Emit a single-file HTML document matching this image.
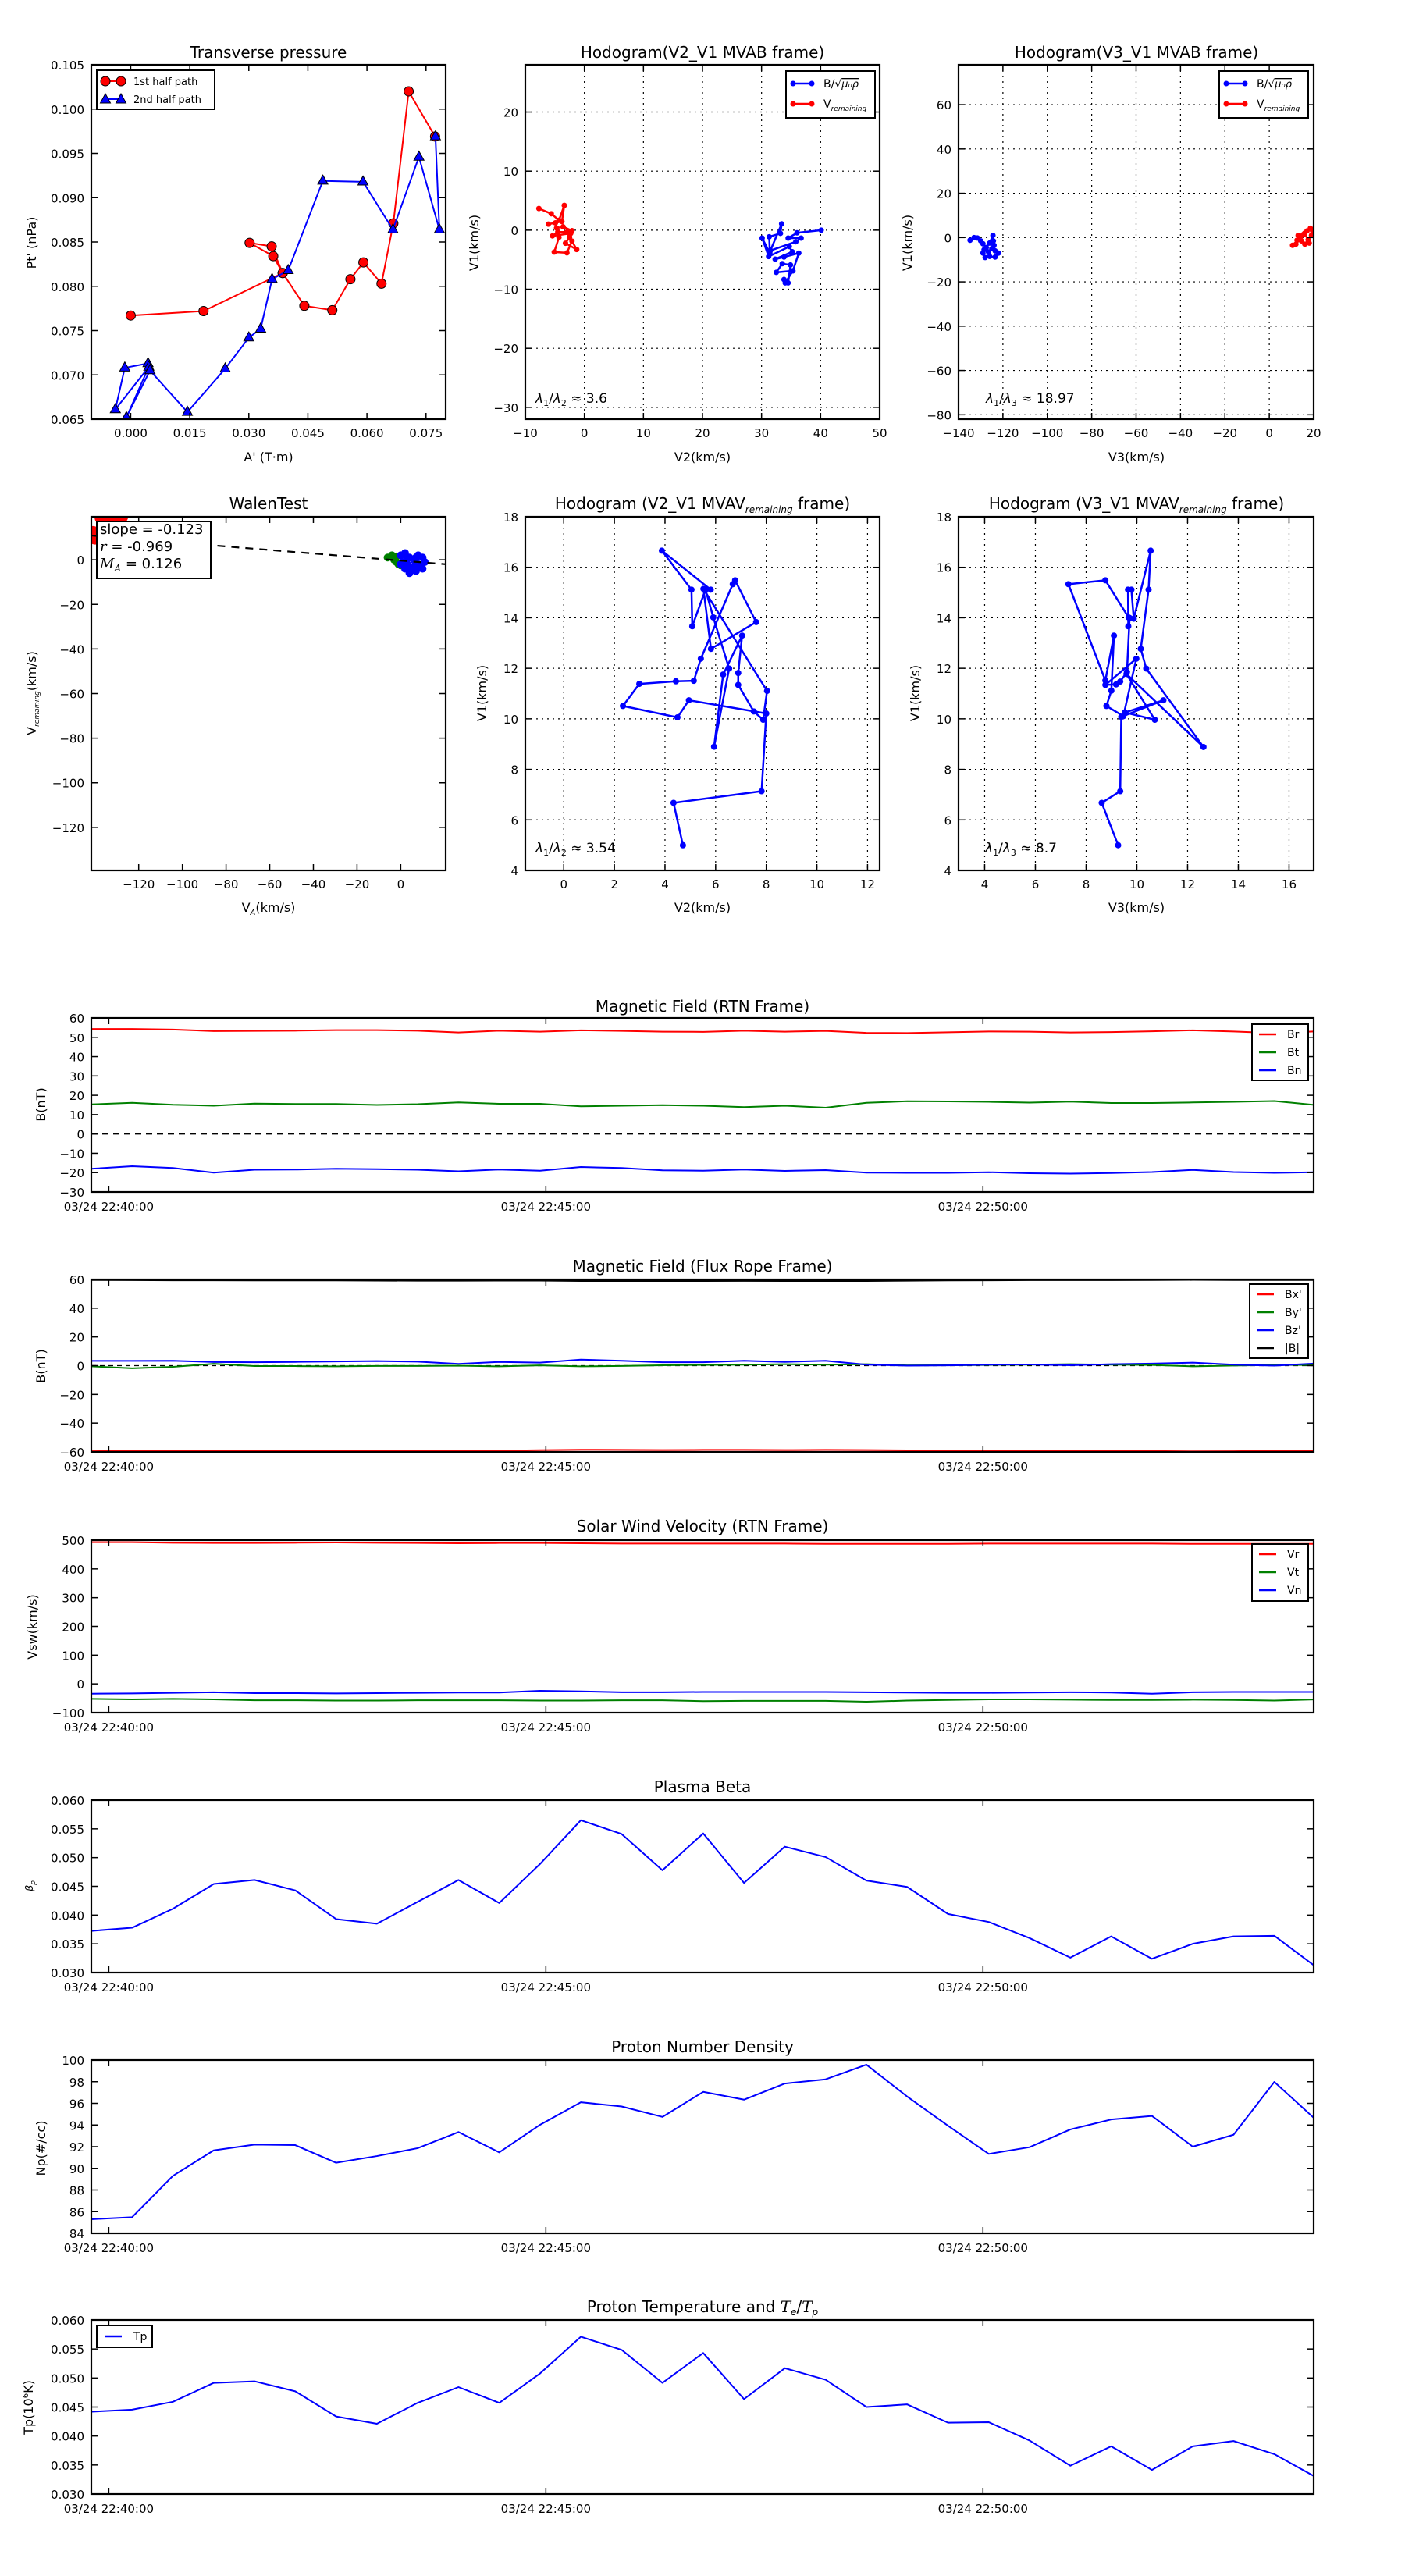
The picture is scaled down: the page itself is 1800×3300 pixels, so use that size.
<!DOCTYPE html>
<html><head><meta charset="utf-8"><style>
html,body{margin:0;padding:0;background:#fff;}
svg{display:block;}
text{font-family:"DejaVu Sans","Liberation Sans",sans-serif;fill:#000;}
</style></head>
<body>
<svg id="fig" xmlns="http://www.w3.org/2000/svg" width="1800" height="3300" viewBox="0 0 1800 3300">
<rect x="0" y="0" width="1800" height="3300" fill="#fff"/>
<defs id="defs"></defs>
</svg>
<script>
// ---------- data ----------
const pressX1 = [0.0000,0.0185,0.0386,0.0362,0.0302,0.0358,0.0386,0.0441,0.0512,0.0558,0.0591,0.0637,0.0667,0.0706,0.0773];
const pressY1 = [0.0767,0.0772,0.0815,0.0834,0.0849,0.0845,0.0815,0.0778,0.0773,0.0808,0.0827,0.0803,0.0871,0.1020,0.0969];
const pressX2 = [0.0044,-0.0015,-0.0039,0.0046,-0.0011,0.0049,0.0144,0.0240,0.0300,0.0330,0.0359,0.0400,0.0488,0.0590,0.0666,0.0732,0.0784,0.0774];
const pressY2 = [0.0713,0.0708,0.0661,0.0709,0.0652,0.0705,0.0658,0.0707,0.0742,0.0752,0.0808,0.0818,0.0919,0.0918,0.0864,0.0946,0.0864,0.0969];

const h1BlueX = [40.1,36.0,34.5,36.7,35.8,31.5,33.4,33.2,31.3,31.4,30.1,31.2,34.7,35.2,32.3,33.8,36.3,35.3,32.5,33.5,34.9,34.5,33.8,34.0,35.3];
const h1BlueY = [0,-0.45,-1.34,-1.34,-1.96,-3.44,1.07,-0.54,-1.12,-3.88,-1.34,-4.46,-2.77,-3.66,-4.91,-4.55,-3.88,-6.88,-7.14,-5.67,-5.89,-8.93,-8.35,-8.93,-6.88];
const h1RedX = [-7.7,-5.6,-4.3,-3.4,-3.8,-6.1,-4.9,-4.7,-3.6,-2.1,-2.3,-5.4,-4.5,-2.95,-2.5,-3.2,-1.3,-2.1,-2.95,-5.1,-4.3];
const h1RedY = [3.67,2.78,1.68,4.19,1.46,1.02,1.24,0.36,0.57,-0.09,-0.53,-0.97,-0.31,-0.31,-1.19,-2.21,-3.27,-1.85,-3.84,-3.70,-1.2];

const h3BlueX = [-134.8,-133,-131.5,-130,-129,-127.5,-126,-124.5,-124.3,-124,-123.5,-122,-123.5,-126,-128,-129,-128.5,-126.5,-125];
const h3BlueY = [-1.2,0,-0.2,-1.5,-2.8,-4.5,-2.5,1.0,-1.5,-3.5,-6,-7,-8.8,-8.5,-9,-7,-5.5,-6.5,-5];
const h3RedX = [10.5,12,12.5,14,15.5,17,18.5,19.5,19,17.5,16,14.5,13,16,18];
const h3RedY = [-3.5,-3,-1.2,0,1.5,3,4.2,3,1,-1,-3,-1.5,1,2,-2.5];

const walenBlueX = [0,2,4,6,8,10,11,9,7,5,3,1,2,4,6,8,10,0,3,7];
const walenBlueY = [2,3,1,0,2,1,-1,-3,-5,-4,-2,-1,-4,-6,-3,-2,-4,-2,1,1];
const walenGreenX = [-6,-4,-3,-2,-1,-3,-2,0];
const walenGreenY = [1,2,0,-1,-2,1,1.5,-2.5];
const walenRedX = [-141,-140,-137,-133,-130,-128];
const walenRedY = [12,10,19,19.5,20,19.5];
const walenFitX = [-141.7,20.6];
const walenFitSlope = -0.0795;
const walenFitIntercept = -0.36;

const h2X = [4.708,4.338,7.815,8.000,4.944,4.492,2.338,2.985,4.431,5.138,5.415,6.677,6.769,7.600,5.815,5.518,8.031,7.877,7.508,6.892,6.892,7.046,6.297,5.938,6.533,5.908,5.600,5.077,5.046,3.877,5.805];
const h2Y = [4.997,6.674,7.136,10.211,10.735,10.057,10.509,11.383,11.486,11.506,12.380,15.332,15.486,13.830,12.771,15.147,11.105,9.964,10.293,11.342,11.815,13.296,11.753,8.895,11.990,14.015,15.116,13.666,15.116,16.658,15.116];
const h4X = [9.262,8.615,9.344,9.385,11.046,9.528,10.708,9.590,12.626,10.369,10.154,10.462,10.544,9.877,9.785,9.651,9.662,9.672,8.759,7.303,8.759,9.097,8.995,8.800,9.467,9.979,8.759,9.179,9.344,9.610,9.713];
const h4Y = [4.998,6.674,7.136,10.077,10.735,10.252,9.964,11.774,8.884,11.990,12.771,15.116,16.658,13.964,15.116,15.116,13.666,14.015,15.486,15.332,11.517,13.296,11.116,10.509,10.108,12.380,11.342,11.362,11.476,11.856,13.995];

// time series (seconds after 03/24 22:40:00)
const sampleSeconds = [-12,16,44,72,100,128,156,184,212,240,268,296,324,352,380,408,436,464,492,520,548,576,604,632,660,688,716,744,772,800,828];
const timeTicks = [0,300,600];
const timeTickLabels = ['03/24 22:40:00','03/24 22:45:00','03/24 22:50:00'];

const Br = [54.3,54.3,54,53.2,53.3,53.4,53.7,53.7,53.4,52.5,53.4,52.9,53.6,53.3,52.9,52.8,53.4,52.9,53.3,52.3,52.2,52.6,53,52.9,52.5,52.7,53.1,53.6,53,52.2,53];
const Bt = [15.3,16.1,15.1,14.6,15.7,15.5,15.5,15,15.4,16.3,15.6,15.6,14.3,14.6,14.9,14.6,13.9,14.6,13.6,16.1,16.9,16.8,16.6,16.2,16.7,16,16,16.3,16.6,17,15];
const Bn = [-18,-16.7,-17.6,-20,-18.5,-18.4,-18,-18.2,-18.5,-19.3,-18.4,-19,-17.1,-17.6,-18.8,-19,-18.4,-19.1,-18.7,-20,-20.1,-20.1,-19.8,-20.3,-20.5,-20.2,-19.7,-18.6,-19.7,-20.1,-19.8];

const BxF = [-59.5,-59.3,-59,-59,-59,-59.2,-59.2,-59,-59,-58.9,-59.2,-58.8,-58.5,-58.6,-58.7,-58.6,-58.6,-58.7,-58.6,-58.7,-58.9,-59.2,-59.3,-59.3,-59.3,-59.3,-59.4,-59.6,-59.5,-59.2,-59.4];
const ByF = [-0.5,-1.8,-0.8,1.3,-0.3,-0.3,-0.5,-0.2,-0.2,0,-0.5,0.2,-0.5,-0.2,0.3,0.5,0.7,1,0.7,1,0.2,0.3,0.5,0.7,1,0.7,0.5,-0.5,0.1,0.5,0.5];
const BzF = [3.3,3.3,3.4,2.5,2.4,2.6,2.9,3.2,2.8,1.2,2.6,2.1,4.2,3.4,2.4,2.4,3.4,2.6,3.4,0.7,0,0.2,0.7,0.8,0.3,1,1.4,2.1,0.7,0,1.5];
const Bmag = [59.6,59.5,59.4,59.4,59.3,59.3,59.3,59.2,59.1,59.1,59.2,59.2,58.9,58.9,58.9,58.9,59,58.9,58.9,58.9,59.1,59.3,59.4,59.5,59.5,59.5,59.6,59.7,59.6,59.6,59.6];

const Vr = [493,493,491,490,490,491,492,491,490,489,490,490,489,488,488,488,488,488,487,487,487,487,488,488,488,488,488,487,487,487,487];
const Vt = [-52,-54,-52,-54,-57,-57,-58,-58,-57,-57,-57,-58,-58,-57,-57,-60,-59,-59,-59,-62,-58,-56,-54,-54,-55,-56,-56,-55,-56,-58,-54];
const Vn = [-34,-33,-31,-29,-32,-32,-33,-32,-31,-30,-30,-24,-26,-29,-29,-28,-28,-28,-28,-29,-30,-31,-31,-30,-29,-30,-34,-29,-28,-28,-28];

const betaP = [0.03725,0.0378,0.0411,0.0454,0.0461,0.0443,0.0393,0.0385,0.0423,0.0461,0.0421,0.0489,0.0565,0.0541,0.0478,0.0542,0.0456,0.0519,0.0501,0.0460,0.0449,0.0402,0.0388,0.0360,0.0326,0.0363,0.0324,0.0350,0.0363,0.0364,0.0311];
const densNp = [85.30,85.49,89.30,91.66,92.19,92.14,90.51,91.13,91.86,93.35,91.47,94.02,96.10,95.71,94.75,97.06,96.34,97.83,98.22,99.57,96.63,93.93,91.33,91.95,93.59,94.51,94.84,92.0,93.1,97.98,94.55];
const tempTp = [0.04419,0.04455,0.0459,0.04916,0.04943,0.04771,0.04337,0.04211,0.04572,0.04843,0.04572,0.05078,0.05711,0.05485,0.04916,0.05431,0.04636,0.05169,0.0497,0.045,0.04545,0.04229,0.04238,0.03922,0.03488,0.03822,0.03416,0.03822,0.03913,0.03687,0.03298];

// ---------- drawing ----------
const NS = 'http://www.w3.org/2000/svg';
const svg = document.getElementById('fig');
const defs = document.getElementById('defs');
const MINUS = '\u2212';
function el(tag, attrs, parent){
  const e = document.createElementNS(NS, tag);
  for (const k in attrs) e.setAttribute(k, attrs[k]);
  parent.appendChild(e);
  return e;
}
function fmtNum(v, d){ const s = Math.abs(v).toFixed(d); return (v < -1e-12 ? MINUS : '') + s; }

function makeAxes(o){
  const g = el('g', {}, svg);
  
  
  const cp = el('clipPath', {id: 'clip-' + o.name}, defs);
  
  
  const cr = el('rect', {x:o.L, y:o.T, width:o.R-o.L, height:o.B-o.T}, cp);
  
  
  const sx = v => o.L + (v - o.xmin) / (o.xmax - o.xmin) * (o.R - o.L);
  const sy = v => o.B - (v - o.ymin) / (o.ymax - o.ymin) * (o.B - o.T);
  if (o.grid){
    o.xt.forEach(v => {
      const l = el('line', {x1:sx(v), x2:sx(v), y1:o.T, y2:o.B, stroke:'#000', 'stroke-width':1.2, 'stroke-dasharray':'2,5'}, g);
      
      
    });
    o.yt.forEach(v => {
      const l = el('line', {x1:o.L, x2:o.R, y1:sy(v), y2:sy(v), stroke:'#000', 'stroke-width':1.2, 'stroke-dasharray':'2,5'}, g);
      
      
    });
  }
  const data = el('g', {'clip-path': 'url(#clip-' + o.name + ')'}, g);
  
  
  function finish(){
    const tk = el('g', {stroke:'#000', 'stroke-width':1.5}, g);
    
    
    o.xt.forEach((v, i) => {
      const x = sx(v);
      const a = el('line', {x1:x, x2:x, y1:o.B, y2:o.B-8}, tk);
      
      
      const b = el('line', {x1:x, x2:x, y1:o.T, y2:o.T+8}, tk);
      
      
      const lab = o.xlabels ? o.xlabels[i] : o.xfmt(v);
      const t = el('text', {x:x, y:o.B + (o.xOff || 23), 'text-anchor':'middle', 'font-size':15}, g);
      t.textContent = lab;
      
      
    });
    o.yt.forEach(v => {
      const y = sy(v);
      const a = el('line', {x1:o.L, x2:o.L+8, y1:y, y2:y}, tk);
      
      
      const b = el('line', {x1:o.R, x2:o.R-8, y1:y, y2:y}, tk);
      
      
      const t = el('text', {x:o.L-9, y:y+6, 'text-anchor':'end', 'font-size':15}, g);
      t.textContent = o.yfmt(v);
      
      
    });
    const fr = el('rect', {x:o.L, y:o.T, width:o.R-o.L, height:o.B-o.T, fill:'none', stroke:'#000', 'stroke-width':2.2}, g);
    
    
  }
  return {g, data, sx, sy, finish, o};
}
function polyline(ax, xs, ys, color, w, name, dash){
  let d = '';
  xs.forEach((x, i) => { d += (i ? 'L' : 'M') + ax.sx(x).toFixed(2) + ',' + ax.sy(ys[i]).toFixed(2); });
  const attrs = {d:d, fill:'none', stroke:color, 'stroke-width':w, 'stroke-linejoin':'round'};
  if (dash) attrs['stroke-dasharray'] = dash;
  const p = el('path', attrs, ax.data);
  
  
  return p;
}
function dots(ax, xs, ys, color, r, name, stroke){
  xs.forEach((x, i) => {
    const c = el('circle', {cx:ax.sx(x), cy:ax.sy(ys[i]), r:r, fill:color, stroke:stroke || 'none', 'stroke-width':1}, ax.data);
    
    
  });
}
function tris(ax, xs, ys, color, s, name){
  xs.forEach((x, i) => {
    const cx = ax.sx(x), cy = ax.sy(ys[i]);
    const p = el('polygon', {points:`${cx},${cy-s*1.15} ${cx-s},${cy+s*0.65} ${cx+s},${cy+s*0.65}`, fill:color, stroke:'#000', 'stroke-width':1}, ax.data);
    
    
  });
}
function text(x, y, str, attrs, name){
  const t = el('text', Object.assign({x:x, y:y}, attrs || {}), svg);
  t.textContent = str;
  
  
  return t;
}
function tspan(parent, str, attrs, name){
  const t = el('tspan', attrs || {}, parent);
  t.textContent = str;
  
  
  return t;
}
function ylabel(x, y, str, size, name){
  const t = text(x, y, str, {'text-anchor':'middle', 'font-size':size || 16, transform:`rotate(-90 ${x} ${y})`}, name);
  return t;
}
function rectBox(x, y, w, h, name){
  const r = el('rect', {x:x, y:y, width:w, height:h, fill:'#fff', stroke:'#000', 'stroke-width':2}, svg);
  
  
  return r;
}
function seg(x1, y1, x2, y2, color, w, name){
  const l = el('line', {x1, y1, x2, y2, stroke:color, 'stroke-width':w}, svg);
  
  
  return l;
}
function dot(cx, cy, r, color, name, stroke){
  const c = el('circle', {cx, cy, r, fill:color, stroke:stroke||'none', 'stroke-width':1}, svg);
  
  
}
const range = (a, b, s) => { const r = []; for (let v = a; v <= b + 1e-9; v += s) r.push(+v.toFixed(6)); return r; };

// ===== Transverse pressure =====
const axP = makeAxes({name:'transverse-pressure-axes', L:117, T:83, R:571, B:537, xmin:-0.01, xmax:0.08, ymin:0.065, ymax:0.105,
  xt:range(0,0.075,0.015), yt:range(0.065,0.105,0.005), xfmt:v=>v.toFixed(3), yfmt:v=>v.toFixed(3)});
polyline(axP, pressX1, pressY1, '#f00', 2, 'first-half-path-line');
dots(axP, pressX1, pressY1, '#f00', 6, 'first-half-path-point', '#000');
polyline(axP, pressX2, pressY2, '#00f', 2, 'second-half-path-line');
tris(axP, pressX2, pressY2, '#00f', 6.5, 'second-half-path-point');
axP.finish();
text(344, 74, 'Transverse pressure', {'text-anchor':'middle','font-size':20}, 'transverse-pressure-title');
text(344, 591, "A' (T\u00b7m)", {'text-anchor':'middle','font-size':16}, 'x-axis-title');
ylabel(46, 311, "Pt' (nPa)", 16, 'y-axis-title');
rectBox(124, 90, 151, 50, 'pressure-legend');
seg(135, 104, 155, 104, '#f00', 2, 'legend-line-first');
dot(135, 104, 6, '#f00', 'legend-marker-first', '#000');
dot(155, 104, 6, '#f00', 'legend-marker-first', '#000');
text(171, 109, '1st half path', {'font-size':13}, 'legend-label-first');
seg(135, 127, 155, 127, '#00f', 2, 'legend-line-second');
{
  [135,155].forEach(cx => {
    const p = el('polygon', {points:`${cx},${127-7} ${cx-6.5},${127+5} ${cx+6.5},${127+5}`, fill:'#00f', stroke:'#000','stroke-width':1}, svg);
    
    
  });
}
text(171, 132, '2nd half path', {'font-size':13}, 'legend-label-second');

// ===== Hodogram V2_V1 MVAB =====
const axH1 = makeAxes({name:'hodogram-v2-v1-mvab-axes', L:673, T:83, R:1127, B:537, xmin:-10, xmax:50, ymin:-32, ymax:28,
  xt:range(-10,50,10), yt:range(-30,20,10), xfmt:v=>fmtNum(v,0), yfmt:v=>fmtNum(v,0), grid:true});
polyline(axH1, h1BlueX, h1BlueY, '#00f', 2.5, 'b-normalized-line');
dots(axH1, h1BlueX, h1BlueY, '#00f', 3.5, 'b-normalized-point');
polyline(axH1, h1RedX, h1RedY, '#f00', 2.5, 'v-remaining-line');
dots(axH1, h1RedX, h1RedY, '#f00', 3.5, 'v-remaining-point');
axH1.finish();
text(900, 74, 'Hodogram(V2_V1 MVAB frame)', {'text-anchor':'middle','font-size':20}, 'hodogram-v2-title');
text(900, 591, 'V2(km/s)', {'text-anchor':'middle','font-size':16}, 'x-axis-title');
ylabel(613, 311, 'V1(km/s)', 16, 'y-axis-title');
{
  const t = text(686, 516, '', {'font-size':17}, 'eigen-ratio-label');
  tspan(t, '\u03bb', {'font-style':'italic'}, 'lambda');
  tspan(t, '1', {'font-size':11, dy:4}, 'sub');
  tspan(t, '/', {dy:-4}, 'slash');
  tspan(t, '\u03bb', {'font-style':'italic'}, 'lambda');
  tspan(t, '2', {'font-size':11, dy:4}, 'sub');
  tspan(t, ' \u2248 3.6', {dy:-4}, 'value');
}
function hodoLegend(x, y, prefix){
  rectBox(x, y, 114, 60, prefix + '-legend');
  seg(x+9, y+16, x+33, y+16, '#00f', 2.5, 'legend-line-b');
  dot(x+9, y+16, 3.5, '#00f', 'legend-marker-b');
  dot(x+33, y+16, 3.5, '#00f', 'legend-marker-b');
  const t1 = text(x+48, y+21, 'B/\u221a', {'font-size':14}, 'legend-label-b');
  tspan(t1, '\u03bc\u2080\u03c1', {'font-style':'italic','text-decoration':'overline','font-size':13}, 'sqrt-term');
  seg(x+9, y+42, x+33, y+42, '#f00', 2.5, 'legend-line-v');
  dot(x+9, y+42, 3.5, '#f00', 'legend-marker-v');
  dot(x+33, y+42, 3.5, '#f00', 'legend-marker-v');
  const t2 = text(x+48, y+47, 'V', {'font-size':14}, 'legend-label-v');
  tspan(t2, 'remaining', {'font-size':9,'font-style':'italic',dy:4}, 'subscript');
}
hodoLegend(1007, 91, 'hodogram-v2');

// ===== Hodogram V3_V1 MVAB =====
const axH3 = makeAxes({name:'hodogram-v3-v1-mvab-axes', L:1228, T:83, R:1683, B:537, xmin:-140, xmax:20, ymin:-82, ymax:78,
  xt:range(-140,20,20), yt:range(-80,60,20), xfmt:v=>fmtNum(v,0), yfmt:v=>fmtNum(v,0), grid:true});
polyline(axH3, h3BlueX, h3BlueY, '#00f', 2.5, 'b-normalized-line');
dots(axH3, h3BlueX, h3BlueY, '#00f', 3.5, 'b-normalized-point');
polyline(axH3, h3RedX, h3RedY, '#f00', 2.5, 'v-remaining-line');
dots(axH3, h3RedX, h3RedY, '#f00', 3.5, 'v-remaining-point');
axH3.finish();
text(1456, 74, 'Hodogram(V3_V1 MVAB frame)', {'text-anchor':'middle','font-size':20}, 'hodogram-v3-title');
text(1456, 591, 'V3(km/s)', {'text-anchor':'middle','font-size':16}, 'x-axis-title');
ylabel(1168, 311, 'V1(km/s)', 16, 'y-axis-title');
{
  const t = text(1263, 516, '', {'font-size':17}, 'eigen-ratio-label');
  tspan(t, '\u03bb', {'font-style':'italic'}, 'lambda');
  tspan(t, '1', {'font-size':11, dy:4}, 'sub');
  tspan(t, '/', {dy:-4}, 'slash');
  tspan(t, '\u03bb', {'font-style':'italic'}, 'lambda');
  tspan(t, '3', {'font-size':11, dy:4}, 'sub');
  tspan(t, ' \u2248 18.97', {dy:-4}, 'value');
}
hodoLegend(1562, 91, 'hodogram-v3');

// ===== Walen test =====
const axW = makeAxes({name:'walen-test-axes', L:117, T:662, R:571, B:1115, xmin:-141.7, xmax:20.6, ymin:-139.3, ymax:19.3,
  xt:range(-120,0,20), yt:range(-120,0,20), xfmt:v=>fmtNum(v,0), yfmt:v=>fmtNum(v,0)});
dots(axW, walenRedX, walenRedY, '#f00', 9, 'walen-red-point');
dots(axW, walenGreenX, walenGreenY, '#008000', 5, 'walen-green-point');
dots(axW, walenBlueX, walenBlueY, '#00f', 5, 'walen-blue-point');
polyline(axW, walenFitX, walenFitX.map(x => walenFitIntercept + walenFitSlope * x), '#000', 2.2, 'walen-fit-line', '10,8');
axW.finish();
text(344, 652, 'WalenTest', {'text-anchor':'middle','font-size':20}, 'walen-title');
rectBox(124, 668, 146, 73, 'walen-stats-box');
text(128, 684, 'slope = -0.123', {'font-size':18}, 'slope-label');
{
  const t = text(128, 706, '', {'font-size':18}, 'r-label');
  tspan(t, 'r', {'font-style':'italic','font-family':'"DejaVu Serif",serif'}, 'r-symbol');
  tspan(t, ' = -0.969', {}, 'r-value');
  const t2 = text(128, 728, '', {'font-size':18}, 'ma-label');
  tspan(t2, 'M', {'font-style':'italic','font-family':'"DejaVu Serif",serif'}, 'm-symbol');
  tspan(t2, 'A', {'font-style':'italic','font-size':12, dy:4,'font-family':'"DejaVu Serif",serif'}, 'a-sub');
  tspan(t2, ' = 0.126', {dy:-4}, 'ma-value');
}
{
  const t = text(344, 1168, 'V', {'text-anchor':'middle','font-size':16}, 'x-axis-title');
  tspan(t, 'A', {'font-size':10,'font-style':'italic',dy:4}, 'subscript');
  tspan(t, '(km/s)', {dy:-4}, 'units');
  const y = text(46, 888, 'V', {'text-anchor':'middle','font-size':16, transform:'rotate(-90 46 888)'}, 'y-axis-title');
  tspan(y, 'remaining', {'font-size':9,'font-style':'italic',dy:4}, 'subscript');
  tspan(y, '(km/s)', {dy:-4}, 'units');
}

// ===== Hodogram V2_V1 MVAV =====
const axH2 = makeAxes({name:'hodogram-v2-v1-mvav-axes', L:673, T:662, R:1127, B:1115, xmin:-1.518, xmax:12.48, ymin:4, ymax:18,
  xt:range(0,12,2), yt:range(4,18,2), xfmt:v=>fmtNum(v,0), yfmt:v=>fmtNum(v,0), grid:true});
polyline(axH2, h2X, h2Y, '#00f', 2.5, 'v-remaining-line');
dots(axH2, h2X, h2Y, '#00f', 4, 'v-remaining-point');
axH2.finish();
function mvavTitle(cx, s, name){
  const t = text(cx, 652, 'Hodogram (' + s + '_V1 MVAV', {'text-anchor':'middle','font-size':20}, name);
  tspan(t, 'remaining', {'font-size':12,'font-style':'italic',dy:5}, 'subscript');
  tspan(t, ' frame)', {dy:-5}, 'suffix');
}
mvavTitle(900, 'V2', 'hodogram-v2-mvav-title');
text(900, 1168, 'V2(km/s)', {'text-anchor':'middle','font-size':16}, 'x-axis-title');
ylabel(623, 888, 'V1(km/s)', 16, 'y-axis-title');
{
  const t = text(686, 1092, '', {'font-size':17}, 'eigen-ratio-label');
  tspan(t, '\u03bb', {'font-style':'italic'}, 'lambda');
  tspan(t, '1', {'font-size':11, dy:4}, 'sub');
  tspan(t, '/', {dy:-4}, 'slash');
  tspan(t, '\u03bb', {'font-style':'italic'}, 'lambda');
  tspan(t, '2', {'font-size':11, dy:4}, 'sub');
  tspan(t, ' \u2248 3.54', {dy:-4}, 'value');
}

// ===== Hodogram V3_V1 MVAV =====
const axH4 = makeAxes({name:'hodogram-v3-v1-mvav-axes', L:1228, T:662, R:1683, B:1115, xmin:2.97, xmax:16.97, ymin:4, ymax:18,
  xt:range(4,16,2), yt:range(4,18,2), xfmt:v=>fmtNum(v,0), yfmt:v=>fmtNum(v,0), grid:true});
polyline(axH4, h4X, h4Y, '#00f', 2.5, 'v-remaining-line');
dots(axH4, h4X, h4Y, '#00f', 4, 'v-remaining-point');
axH4.finish();
mvavTitle(1456, 'V3', 'hodogram-v3-mvav-title');
text(1456, 1168, 'V3(km/s)', {'text-anchor':'middle','font-size':16}, 'x-axis-title');
ylabel(1178, 888, 'V1(km/s)', 16, 'y-axis-title');
{
  const t = text(1262, 1092, '', {'font-size':17}, 'eigen-ratio-label');
  tspan(t, '\u03bb', {'font-style':'italic'}, 'lambda');
  tspan(t, '1', {'font-size':11, dy:4}, 'sub');
  tspan(t, '/', {dy:-4}, 'slash');
  tspan(t, '\u03bb', {'font-style':'italic'}, 'lambda');
  tspan(t, '3', {'font-size':11, dy:4}, 'sub');
  tspan(t, ' \u2248 8.7', {dy:-4}, 'value');
}

// ===== Time series panels =====
function timeAxes(name, T, B, ymin, ymax, yt, yfmt){
  return makeAxes({name:name, L:117, T:T, R:1683, B:B, xmin:-12, xmax:827, ymin:ymin, ymax:ymax,
    xt:timeTicks, xlabels:timeTickLabels, yt:yt, yfmt:yfmt, xOff:24});
}
function tsLegend(x, y, w, h, entries, name){
  rectBox(x, y, w, h, name);
  entries.forEach((e, i) => {
    const yy = y + 13 + i * 23;
    seg(x+9, yy, x+31, yy, e[1], 2.5, 'legend-line-' + e[2]);
    text(x+45, yy+5, e[0], {'font-size':14}, 'legend-label-' + e[2]);
  });
}
// Magnetic field RTN
const axB = timeAxes('magnetic-field-rtn-axes', 1304, 1527, -30, 60, range(-30,60,10), v=>fmtNum(v,0));
polyline(axB, [-12, 828], [0, 0], '#000', 1.5, 'zero-line', '8,6');
polyline(axB, sampleSeconds, Br, '#f00', 2, 'br-line');
polyline(axB, sampleSeconds, Bt, '#008000', 2, 'bt-line');
polyline(axB, sampleSeconds, Bn, '#00f', 2, 'bn-line');
axB.finish();
tsLegend(1604, 1312, 72, 72, [['Br','#f00','br'],['Bt','#008000','bt'],['Bn','#00f','bn']], 'rtn-field-legend');
text(900, 1296, 'Magnetic Field (RTN Frame)', {'text-anchor':'middle','font-size':20}, 'magnetic-field-rtn-title');
ylabel(58, 1415, 'B(nT)', 16, 'y-axis-title');

// Magnetic field flux rope frame
const axF = timeAxes('magnetic-field-flux-rope-axes', 1639, 1860, -60, 60, range(-60,60,20), v=>fmtNum(v,0));
polyline(axF, [-12, 828], [0, 0], '#000', 1.2, 'zero-line', '6,5');
polyline(axF, sampleSeconds, BxF, '#f00', 2, 'bx-line');
polyline(axF, sampleSeconds, ByF, '#008000', 2, 'by-line');
polyline(axF, sampleSeconds, BzF, '#00f', 2, 'bz-line');
polyline(axF, sampleSeconds, Bmag, '#000', 2, 'b-magnitude-line');
axF.finish();
tsLegend(1601, 1645, 75, 95, [["Bx'",'#f00','bx'],["By'",'#008000','by'],["Bz'",'#00f','bz'],['|B|','#000','bmag']], 'flux-rope-legend');
text(900, 1629, 'Magnetic Field (Flux Rope Frame)', {'text-anchor':'middle','font-size':20}, 'magnetic-field-flux-rope-title');
ylabel(58, 1750, 'B(nT)', 16, 'y-axis-title');

// Solar wind velocity
const axV = timeAxes('solar-wind-velocity-axes', 1973, 2194, -100, 500, range(-100,500,100), v=>fmtNum(v,0));
polyline(axV, sampleSeconds, Vr, '#f00', 2, 'vr-line');
polyline(axV, sampleSeconds, Vt, '#008000', 2, 'vt-line');
polyline(axV, sampleSeconds, Vn, '#00f', 2, 'vn-line');
axV.finish();
tsLegend(1604, 1978, 72, 73, [['Vr','#f00','vr'],['Vt','#008000','vt'],['Vn','#00f','vn']], 'velocity-legend');
text(900, 1962, 'Solar Wind Velocity (RTN Frame)', {'text-anchor':'middle','font-size':20}, 'solar-wind-velocity-title');
ylabel(47, 2084, 'Vsw(km/s)', 16, 'y-axis-title');

// Plasma beta
const axBeta = timeAxes('plasma-beta-axes', 2306, 2527, 0.030, 0.060, range(0.030,0.060,0.005), v=>v.toFixed(3));
polyline(axBeta, sampleSeconds, betaP, '#00f', 2, 'beta-line');
axBeta.finish();
text(900, 2296, 'Plasma Beta', {'text-anchor':'middle','font-size':20}, 'plasma-beta-title');
{
  const y = text(42, 2416, '\u03b2', {'text-anchor':'middle','font-size':13,'font-style':'italic', transform:'rotate(-90 42 2416)'}, 'y-axis-title');
  tspan(y, 'p', {'font-size':9, dy:3}, 'subscript');
}

// Proton density
const axN = timeAxes('proton-density-axes', 2639, 2861, 84, 100, range(84,100,2), v=>fmtNum(v,0));
polyline(axN, sampleSeconds, densNp, '#00f', 2, 'density-line');
axN.finish();
text(900, 2629, 'Proton Number Density', {'text-anchor':'middle','font-size':20}, 'proton-density-title');
ylabel(58, 2752, 'Np(#/cc)', 16, 'y-axis-title');

// Proton temperature
const axT = timeAxes('proton-temperature-axes', 2972, 3195, 0.030, 0.060, range(0.030,0.060,0.005), v=>v.toFixed(3));
polyline(axT, sampleSeconds, tempTp, '#00f', 2, 'tp-line');
axT.finish();
rectBox(124, 2979, 71, 28, 'tp-legend');
seg(134, 2993, 156, 2993, '#00f', 2.5, 'legend-line-tp');
text(171, 2998, 'Tp', {'font-size':14}, 'legend-label-tp');
{
  const t = text(900, 2962, 'Proton Temperature and ', {'text-anchor':'middle','font-size':20}, 'proton-temperature-title');
  tspan(t, 'T', {'font-style':'italic','font-family':'"DejaVu Serif",serif'}, 't-symbol');
  tspan(t, 'e', {'font-style':'italic','font-size':12, dy:4}, 'e-sub');
  tspan(t, '/', {dy:-4}, 'slash');
  tspan(t, 'T', {'font-style':'italic','font-family':'"DejaVu Serif",serif'}, 't-symbol');
  tspan(t, 'p', {'font-style':'italic','font-size':12, dy:4}, 'p-sub');
  const y = text(42, 3084, 'Tp(10', {'text-anchor':'middle','font-size':16, transform:'rotate(-90 42 3084)'}, 'y-axis-title');
  tspan(y, '6', {'font-size':10, dy:-6}, 'superscript');
  tspan(y, 'K)', {dy:6}, 'units');
}
</script>
</body></html>
